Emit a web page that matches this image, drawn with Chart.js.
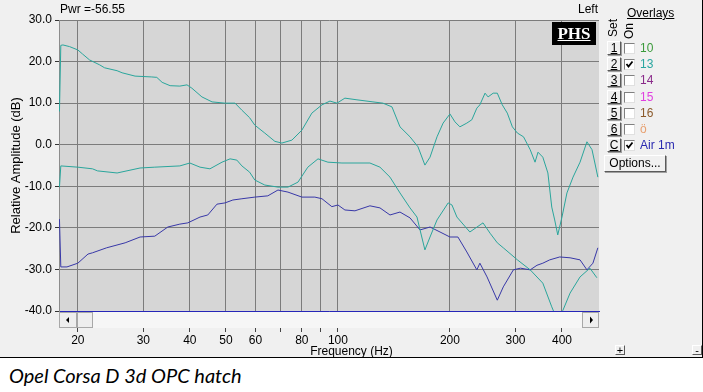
<!DOCTYPE html>
<html>
<head>
<meta charset="utf-8">
<script src="https://cdn.jsdelivr.net/npm/chart.js@4/dist/chart.umd.min.js"></script>
<style>
html,body{margin:0;padding:0;background:#fff;}
body{width:703px;height:392px;position:relative;overflow:hidden;font-family:"Liberation Sans",Arial,sans-serif;font-size:12px;color:#000;}
#app{position:absolute;left:0;top:0;width:702px;height:357px;background:#f0f0f0;border-right:1px solid #000;border-bottom:1px solid #000;}
#cv{position:absolute;left:0;top:0;}
.t{position:absolute;white-space:nowrap;line-height:14px;}
.btn{position:absolute;box-sizing:border-box;background:#f0f0f0;border:1px solid;border-color:#fff #5a5a5a #5a5a5a #fff;box-shadow:1px 1px 0 #a0a0a0;text-align:center;line-height:12px;font-size:12px;}
.cb{position:absolute;box-sizing:border-box;width:11px;height:11px;background:#fff;border:1px solid;border-color:#808080 #e0e0e0 #e0e0e0 #808080;}
.phs{position:absolute;left:552px;top:22px;width:44px;height:23px;background:#000;color:#fff;font-family:"Liberation Serif","Times New Roman",serif;font-weight:bold;font-size:17px;line-height:23px;text-align:center;text-decoration:underline;}
.rot{position:absolute;transform:rotate(-90deg);transform-origin:center center;white-space:nowrap;line-height:12px;}
#cap{position:absolute;left:9px;top:363px;font-family:Lato,"Open Sans",sans-serif;font-style:italic;font-size:20px;color:#000;white-space:nowrap;}
</style>
</head>
<body>
<div id="app">
  <canvas id="cv" width="702" height="357"></canvas>
  <div class="t" style="left:60px;top:2px;">Pwr =-56.55</div>
  <div class="t" style="left:578px;top:2px;">Left</div>
  <div class="phs">PHS</div>
  <div class="t" style="left:627px;top:6px;text-decoration:underline;">Overlays</div>
  <div class="rot" style="left:602px;top:22px;width:22px;text-align:center;">Set</div>
  <div class="rot" style="left:619px;top:25px;width:20px;text-align:center;">On</div>
  <div id="rows"></div>
  <div class="btn" style="left:604px;top:155px;width:62px;height:17px;line-height:15px;">Options...</div>
  <div class="t" style="left:0;top:344px;width:703px;text-align:center;">Frequency (Hz)</div>
  <div class="btn" style="left:615px;top:345px;width:10px;height:10px;line-height:8px;font-size:11px;box-shadow:none;">+</div>
  <div class="btn" style="left:692px;top:345px;width:10px;height:10px;line-height:8px;font-size:11px;box-shadow:none;">-</div>
</div>
<div id="cap">Opel Corsa D 3d OPC hatch</div>
<script>
// ---- data (frequency in Hz, level in dB) ----
const upperFreq = [17.85, 18.0, 18.24, 19.0, 20.0, 20.6, 21.5, 22.9, 23.6, 25.5, 26.3, 28.5, 31.6, 32.6, 33.7, 35.4, 37.6, 39.3, 40.5, 43.1, 45.9, 49.7, 52.9, 55.2, 57.9, 59.8, 63.6, 67.7, 70.7, 75.2, 80.0, 85.1, 90.6, 95.2, 99.4, 104.4, 112.5, 124.2, 132.1, 139.7, 146.8, 156.2, 164.1, 171.3, 176.8, 184.6, 191.7, 200, 206.3, 212.7, 222, 229, 236.2, 240.7, 248.5, 253.2, 261.3, 268.1, 276.4, 285.2, 294.3, 303.6, 315.3, 328.6, 338.6, 344.9, 355.3, 366.6, 375.5, 382.4, 389.7, 400, 412.5, 428.3, 447.3, 466.8, 481.7, 490.3, 499.5];
const upperDb = [8.0, 23.9, 24.0, 23.6, 22.8, 21.8, 20.4, 19.2, 18.5, 17.8, 17.3, 16.5, 16.3, 16.2, 15.0, 14.2, 14.1, 14.4, 13.6, 11.5, 10.3, 10.0, 10.0, 8.3, 6.5, 4.7, 2.8, 0.8, 0.4, 1.1, 3.5, 7.6, 9.6, 10.5, 10.0, 11.2, 10.8, 10.3, 10.0, 9.1, 4.3, 1.9, -0.5, -4.9, -3.0, 1.9, 5.2, 7.4, 5.5, 4.3, 5.2, 6.0, 8.8, 9.6, 12.4, 11.5, 12.4, 12.4, 9.6, 7.6, 4.3, 2.8, 1.9, -1.2, -4.2, -1.8, -3.0, -6.8, -15.0, -18.1, -21.7, -17.4, -11.6, -7.8, -4.2, 0.7, -1.2, -4.4, -7.8];

const lowerFreq = [17.85, 18.0, 20.0, 21.9, 22.6, 25.5, 29.4, 32.2, 37.6, 40.0, 42.6, 45.3, 48.8, 51.3, 53.5, 55.2, 57.9, 59.8, 63.6, 69.0, 73.4, 78.1, 83.0, 88.4, 94.0, 102.5, 121.9, 129.7, 138.0, 146.8, 156.2, 163.1, 166.2, 171.3, 176.8, 184.6, 197.8, 202.5, 208.8, 226.2, 245.4, 256.4, 268.1, 278.2, 303.6, 328.6, 355.3, 375.5, 387.9, 402.5, 420.5, 447.3, 475.5, 496.4];
const lowerDb = [-10.2, -5.1, -5.4, -5.8, -6.3, -6.8, -5.6, -5.4, -5.1, -4.4, -5.4, -5.8, -4.2, -3.4, -3.7, -5.1, -6.6, -8.5, -9.7, -10.2, -10.2, -9.0, -5.4, -3.4, -4.2, -4.4, -4.4, -5.4, -7.8, -11.6, -15.2, -17.4, -20.5, -25.3, -22.2, -18.1, -14.0, -14.5, -17.4, -21.0, -18.8, -21.3, -23.6, -24.8, -27.7, -30.1, -33.3, -39.0, -42.0, -39.8, -35.7, -31.8, -29.7, -32.0];

const airFreq = [17.85, 18.0, 18.7, 20.0, 21.3, 21.9, 23.9, 26.8, 29.4, 32.2, 34.9, 37.6, 39.5, 42.6, 44.7, 47.3, 49.7, 52.2, 55.2, 59.8, 64.8, 69.0, 73.4, 80.0, 86.7, 90.6, 96.3, 100, 104.4, 111.1, 121.9, 129.7, 138.0, 146.8, 156.2, 166.2, 176.8, 188.1, 200, 210.1, 222, 236.2, 240.7, 251.6, 268.1, 278.2, 296.1, 309.4, 328.6, 342.7, 355.3, 370.8, 394.5, 420.5, 447.3, 466.8, 484.4, 499.5];
const airDb = [-17.9, -29.4, -29.4, -28.5, -26.3, -26.0, -24.8, -23.6, -22.2, -22.0, -19.8, -19.1, -18.8, -17.4, -16.9, -14.3, -14.0, -13.3, -13.0, -12.6, -12.3, -10.9, -11.4, -12.6, -12.6, -13.0, -14.9, -14.5, -15.7, -15.9, -14.7, -15.2, -16.9, -16.2, -17.6, -20.5, -19.8, -21.0, -22.2, -22.2, -25.8, -30.1, -28.5, -31.8, -37.4, -34.2, -30.1, -29.7, -30.1, -29.0, -28.5, -27.7, -27.0, -27.2, -27.7, -30.1, -28.5, -24.8];

const xTickValues = [20, 30, 40, 50, 60, 70, 80, 90, 100, 200, 300, 400];
const xTickLabels = ['20', '30', '40', '50', '60', '', '80', '', '100', '200', '300', '400'];

const overlaySets = ['1', '2', '3', '4', '5', '6', 'C'];
const overlayNames = ['10', '13', '14', '15', '16', 'ö', 'Air 1m'];
const overlayOn = [false, true, false, false, false, false, true];
const overlayColors = ['#3a9a3a', '#2aa6a0', '#8a2a8a', '#e040e0', '#8b5a2b', '#e8a070', '#2a2ab0'];

// ---- overlay panel ----
const rows = document.getElementById('rows');
overlaySets.forEach((s, i) => {
  const cy = 48 + i * 16.2;
  const b = document.createElement('div');
  b.className = 'btn';
  b.style.cssText = `left:607px;top:${Math.round(cy - 7)}px;width:14px;height:14px;text-decoration:underline;`;
  b.textContent = s;
  rows.appendChild(b);
  const c = document.createElement('div');
  c.className = 'cb';
  c.style.left = '624px';
  c.style.top = Math.round(cy - 5) + 'px';
  if (overlayOn[i]) {
    c.innerHTML = '<svg width="9" height="9" style="position:absolute;left:0;top:0"><polyline points="1.5,4 3.5,6.5 7.5,1.5" fill="none" stroke="#000" stroke-width="1.8"/></svg>';
  }
  rows.appendChild(c);
  const l = document.createElement('div');
  l.className = 't';
  l.style.cssText = `left:640px;top:${Math.round(cy - 7)}px;color:${overlayColors[i]};`;
  l.textContent = overlayNames[i];
  rows.appendChild(l);
});

// ---- chart ----
const pts = (f, d) => f.map((v, i) => ({ x: v, y: d[i] }));

const plotBg = {
  id: 'plotBg',
  beforeDraw(chart) {
    const { ctx, chartArea: a } = chart;
    ctx.save();
    ctx.fillStyle = '#d6d6d6';
    ctx.fillRect(a.left, a.top, a.right - a.left, a.bottom - a.top);
    ctx.restore();
  }
};

const scrollBar = {
  id: 'scrollBar',
  afterDraw(chart) {
    const { ctx, chartArea: a } = chart;
    const y0 = a.bottom + 1, h = 16;
    ctx.save();
    ctx.fillStyle = '#f6f6f6';
    ctx.fillRect(a.left, y0, a.right - a.left, h);
    const box = (x, w) => {
      ctx.fillStyle = '#eeeeee';
      ctx.fillRect(x, y0, w, h);
      ctx.strokeStyle = '#a8a8a8';
      ctx.lineWidth = 1;
      ctx.strokeRect(x + 0.5, y0 + 0.5, w - 1, h - 1);
    };
    box(a.left, 18);
    box(a.left + 18, 16);
    box(a.right - 17, 17);
    ctx.fillStyle = '#000';
    ctx.beginPath();
    ctx.moveTo(a.left + 7, y0 + 8); ctx.lineTo(a.left + 10, y0 + 5); ctx.lineTo(a.left + 10, y0 + 11); ctx.closePath(); ctx.fill();
    ctx.beginPath();
    ctx.moveTo(a.right - 6, y0 + 8); ctx.lineTo(a.right - 9, y0 + 4.5); ctx.lineTo(a.right - 9, y0 + 11.5); ctx.closePath(); ctx.fill();
    ctx.restore();
  }
};

const teal = '#2aa69c';
const blue = '#3838a8';

new Chart(document.getElementById('cv'), {
  type: 'line',
  data: {
    datasets: [
      { label: 'upper', data: pts(upperFreq, upperDb), borderColor: teal },
      { label: 'lower', data: pts(lowerFreq, lowerDb), borderColor: teal },
      { label: 'Air 1m', data: pts(airFreq, airDb), borderColor: blue }
    ]
  },
  options: {
    responsive: false,
    animation: false,
    devicePixelRatio: 1,
    parsing: true,
    elements: {
      line: { borderWidth: 1, tension: 0, fill: false },
      point: { radius: 0, hitRadius: 0, hoverRadius: 0 }
    },
    layout: { autoPadding: false, padding: { left: 0, top: 20, right: 103, bottom: 0 } },
    plugins: { legend: { display: false }, tooltip: { enabled: false } },
    scales: {
      x: {
        type: 'logarithmic',
        min: 17.8,
        max: 503,
        afterBuildTicks: s => { s.ticks = xTickValues.map(v => ({ value: v })); },
        afterFit: s => { s.height = 46; },
        ticks: {
          autoSkip: false, maxRotation: 0, minRotation: 0, padding: 1,
          color: '#000', font: { family: 'Liberation Sans', size: 12 },
          callback: (v) => { const i = xTickValues.indexOf(v); return i >= 0 ? xTickLabels[i] : ''; }
        },
        grid: { color: '#7c7c7c', lineWidth: 1, tickLength: 21, tickColor: '#444' },
        border: { color: '#2626b8', width: 1 }
      },
      y: {
        min: -40,
        max: 30,
        afterFit: s => { s.width = 59; },
        ticks: {
          stepSize: 10, padding: 3, color: '#000',
          font: { family: 'Liberation Sans', size: 12 },
          callback: v => v.toFixed(1)
        },
        grid: { color: '#7c7c7c', lineWidth: 1, tickLength: 4, tickColor: '#333' },
        border: { color: '#8c8c8c', width: 1 },
        title: {
          display: true, text: 'Relative Amplitude (dB)', color: '#000',
          font: { family: 'Liberation Sans', size: 13 }, padding: { top: 9, bottom: 0 }
        }
      }
    }
  },
  plugins: [plotBg, scrollBar]
});
</script>
</body>
</html>
